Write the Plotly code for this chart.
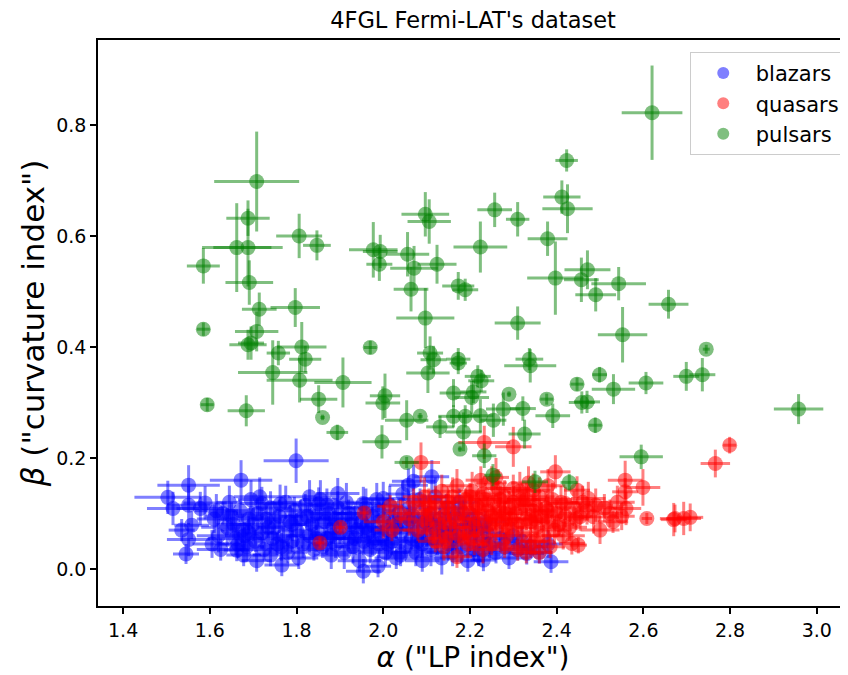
import plotly.graph_objects as go

# ---------------- data ----------------
blazar_alpha = [
    1.799, 1.672, 1.551, 1.503, 1.515, 1.551, 1.578, 1.589, 1.535, 1.558,
    1.551, 1.545, 1.895, 1.954, 2.000, 1.720, 1.762, 1.851, 2.058, 1.954,
    1.988, 1.766, 1.708, 1.662, 1.678, 2.070, 2.112, 2.331, 2.387, 2.231,
    1.61, 1.62, 1.63, 1.64, 1.605, 1.645, 1.625, 1.655, 1.66, 1.67,
    1.675, 1.685, 1.69, 1.695, 1.68, 1.70, 1.705, 1.71, 1.72, 1.725,
    1.73, 1.74, 1.745, 1.715, 1.75, 1.755, 1.76, 1.77, 1.775, 1.78,
    1.785, 1.79, 1.795, 1.80, 1.805, 1.81, 1.815, 1.82, 1.83, 1.835,
    1.84, 1.845, 1.85, 1.855, 1.86, 1.865, 1.87, 1.875, 1.88, 1.885,
    1.89, 1.895, 1.90, 1.905, 1.91, 1.915, 1.92, 1.925, 1.93, 1.935,
    1.94, 1.945, 1.95, 1.955, 1.96, 1.965, 1.97, 1.975, 1.98, 1.985,
    1.99, 1.995, 2.00, 2.005, 2.01, 2.015, 2.02, 2.025, 2.03, 2.035,
    2.04, 2.045, 2.05, 2.055, 2.06, 2.065, 2.07, 2.075, 2.08, 2.085,
    2.09, 2.095, 2.10, 2.105, 2.11, 2.115, 2.12, 2.125, 2.13, 2.135,
    2.14, 2.145, 2.15, 2.155, 2.16, 2.165, 2.17, 2.175, 2.18, 2.19,
    2.195, 2.20, 2.205, 2.21, 2.215, 2.22, 2.23, 2.24, 2.245, 2.26,
    2.27, 2.28, 2.29, 2.30, 2.31, 2.32, 2.34, 2.36, 2.38, 1.615,
    1.665, 1.69, 1.735, 1.765, 1.79, 1.825, 1.845, 1.87, 1.89, 1.92,
    1.935, 1.96, 1.975, 2.01, 2.03, 2.06, 2.08, 2.11, 2.135, 2.16,
    2.185, 2.21, 2.235, 1.65, 1.74, 1.83, 1.88, 1.99, 2.04, 2.09,
]
blazar_beta = [
    0.195, 0.160, 0.151, 0.129, 0.109, 0.115, 0.109, 0.119, 0.070, 0.079,
    0.053, 0.027, 0.136, 0.118, 0.127, 0.118, 0.117, 0.117, 0.151, -0.004,
    0.005, 0.007, 0.015, 0.034, 0.025, 0.158, 0.166, 0.028, 0.013, 0.016,
    0.09, 0.06, 0.10, 0.075, 0.045, 0.12, 0.035, 0.08, 0.055, 0.105,
    0.07, 0.04, 0.09, 0.125, 0.06, 0.08, 0.05, 0.10, 0.065, 0.035,
    0.09, 0.11, 0.055, 0.13, 0.075, 0.045, 0.095, 0.06, 0.12, 0.03,
    0.085, 0.05, 0.105, 0.07, 0.02, 0.09, 0.045, 0.115, 0.06, 0.08,
    0.035, 0.10, 0.065, 0.125, 0.04, 0.085, 0.055, 0.10, 0.025, 0.075,
    0.045, 0.11, 0.065, 0.09, 0.03, 0.12, 0.055, 0.08, 0.04, 0.10,
    0.07, 0.015, 0.085, 0.05, 0.11, 0.065, 0.035, 0.095, 0.075, 0.125,
    0.045, 0.06, 0.09, 0.03, 0.07, 0.115, 0.05, 0.085, 0.02, 0.10,
    0.065, 0.135, 0.04, 0.08, 0.11, 0.055, 0.095, 0.03, 0.07, 0.125,
    0.045, 0.085, 0.06, 0.10, 0.035, 0.075, 0.13, 0.05, 0.09, 0.02,
    0.065, 0.11, 0.045, 0.08, 0.03, 0.095, 0.06, 0.12, 0.04, 0.075,
    0.015, 0.055, 0.09, 0.035, 0.07, 0.025, 0.05, 0.065, 0.04, 0.03,
    0.055, 0.045, 0.02, 0.06, 0.035, 0.05, 0.04, 0.03, 0.045, 0.105,
    0.045, 0.065, 0.075, 0.04, 0.08, 0.095, 0.055, 0.115, 0.09, 0.10,
    0.055, 0.075, 0.05, 0.045, 0.075, 0.09, 0.05, 0.085, 0.07, 0.055,
    0.10, 0.08, 0.085, 0.095, 0.025, 0.13, 0.06, 0.105, 0.025, 0.015,
]
blazar_alpha_err = [
    0.075, 0.072, 0.072, 0.077, 0.06, 0.05, 0.055, 0.05, 0.03, 0.04,
    0.05, 0.03, 0.05, 0.04, 0.05, 0.05, 0.04, 0.06, 0.045, 0.04,
    0.03, 0.04, 0.035, 0.03, 0.04, 0.05, 0.04, 0.04, 0.04, 0.03,
    0.04, 0.05, 0.035, 0.06, 0.045, 0.03, 0.055, 0.04, 0.065, 0.035,
    0.05, 0.04, 0.06, 0.03, 0.045, 0.055, 0.035, 0.05, 0.04, 0.065,
    0.035, 0.05, 0.045, 0.06, 0.04, 0.03, 0.055, 0.05, 0.035, 0.045,
    0.06, 0.04, 0.05, 0.035, 0.045, 0.065, 0.04, 0.03, 0.055, 0.05,
    0.045, 0.035, 0.06, 0.04, 0.05, 0.03, 0.055, 0.045, 0.04, 0.065,
    0.05, 0.04, 0.035, 0.06, 0.045, 0.05, 0.03, 0.055, 0.04, 0.045,
    0.035, 0.05, 0.06, 0.04, 0.045, 0.03, 0.055, 0.05, 0.065, 0.04,
    0.045, 0.035, 0.05, 0.06, 0.04, 0.03, 0.055, 0.045, 0.05, 0.035,
    0.06, 0.04, 0.045, 0.05, 0.035, 0.055, 0.04, 0.065, 0.03, 0.05,
    0.04, 0.05, 0.035, 0.045, 0.06, 0.04, 0.03, 0.055, 0.045, 0.05,
    0.035, 0.045, 0.05, 0.04, 0.06, 0.035, 0.05, 0.045, 0.04, 0.055,
    0.04, 0.05, 0.035, 0.045, 0.04, 0.05, 0.03, 0.045, 0.04, 0.035,
    0.04, 0.035, 0.045, 0.03, 0.04, 0.035, 0.04, 0.03, 0.035, 0.05,
    0.045, 0.055, 0.04, 0.05, 0.035, 0.06, 0.045, 0.04, 0.05, 0.035,
    0.05, 0.04, 0.045, 0.035, 0.05, 0.04, 0.055, 0.045, 0.04, 0.035,
    0.045, 0.04, 0.05, 0.06, 0.04, 0.05, 0.045, 0.04, 0.035, 0.04,
]
blazar_beta_err = [
    0.04, 0.036, 0.036, 0.03, 0.03, 0.035, 0.03, 0.03, 0.02, 0.025,
    0.03, 0.018, 0.028, 0.03, 0.03, 0.03, 0.035, 0.03, 0.03, 0.022,
    0.02, 0.02, 0.02, 0.02, 0.02, 0.03, 0.03, 0.02, 0.02, 0.02,
    0.025, 0.03, 0.02, 0.035, 0.025, 0.03, 0.02, 0.025, 0.03, 0.02,
    0.03, 0.025, 0.02, 0.035, 0.025, 0.03, 0.02, 0.025, 0.03, 0.02,
    0.025, 0.03, 0.02, 0.035, 0.025, 0.02, 0.03, 0.025, 0.03, 0.02,
    0.03, 0.02, 0.025, 0.03, 0.02, 0.035, 0.025, 0.02, 0.03, 0.025,
    0.02, 0.03, 0.025, 0.035, 0.02, 0.025, 0.03, 0.02, 0.025, 0.03,
    0.025, 0.03, 0.02, 0.025, 0.03, 0.035, 0.02, 0.025, 0.03, 0.02,
    0.025, 0.02, 0.03, 0.025, 0.035, 0.02, 0.025, 0.03, 0.02, 0.03,
    0.025, 0.02, 0.03, 0.025, 0.02, 0.035, 0.025, 0.03, 0.02, 0.025,
    0.03, 0.025, 0.02, 0.03, 0.025, 0.02, 0.035, 0.025, 0.03, 0.02,
    0.025, 0.03, 0.02, 0.025, 0.03, 0.02, 0.035, 0.025, 0.02, 0.03,
    0.02, 0.025, 0.03, 0.02, 0.025, 0.035, 0.02, 0.025, 0.03, 0.02,
    0.02, 0.025, 0.03, 0.02, 0.025, 0.02, 0.03, 0.025, 0.02, 0.02,
    0.025, 0.02, 0.02, 0.025, 0.02, 0.025, 0.02, 0.02, 0.025, 0.03,
    0.025, 0.03, 0.02, 0.025, 0.03, 0.02, 0.025, 0.03, 0.02, 0.025,
    0.03, 0.02, 0.025, 0.03, 0.02, 0.025, 0.03, 0.02, 0.025, 0.03,
    0.025, 0.03, 0.02, 0.025, 0.02, 0.03, 0.025, 0.02, 0.02, 0.02,
]

quasar_alpha = [
    2.087, 2.233, 2.300, 2.346, 2.397, 2.558, 2.599, 2.558, 2.560, 2.473,
    2.454, 2.485, 2.500, 2.523, 2.608, 2.670, 2.435, 2.450, 2.170, 2.447,
    2.420, 2.799, 2.766, 2.693, 2.708, 2.673, 1.956, 1.901, 1.854, 2.016,
    2.06, 2.07, 2.08, 2.09, 2.10, 2.095, 2.11, 2.115, 2.12, 2.13,
    2.135, 2.14, 2.145, 2.105, 2.15, 2.155, 2.16, 2.165, 2.17, 2.175,
    2.18, 2.185, 2.19, 2.195, 2.20, 2.205, 2.21, 2.215, 2.22, 2.225,
    2.23, 2.235, 2.24, 2.245, 2.21, 2.23, 2.25, 2.255, 2.26, 2.265,
    2.27, 2.275, 2.28, 2.285, 2.29, 2.295, 2.26, 2.28, 2.27, 2.29,
    2.30, 2.305, 2.31, 2.315, 2.32, 2.325, 2.33, 2.335, 2.34, 2.345,
    2.31, 2.32, 2.34, 2.35, 2.355, 2.36, 2.365, 2.37, 2.375, 2.38,
    2.385, 2.39, 2.395, 2.36, 2.38, 2.40, 2.405, 2.41, 2.415, 2.42,
    2.43, 2.44, 2.445, 2.46, 2.47, 2.49, 2.51, 2.53, 2.54, 2.55,
    2.02, 2.04, 2.00, 2.12, 2.14, 2.19, 2.23, 2.25, 2.33, 2.35,
    2.15, 2.20, 2.25, 2.30, 2.33, 2.28, 2.22, 2.35, 2.38, 2.26,
]
quasar_beta = [
    0.192, 0.228, 0.220, 0.142, 0.175, 0.160, 0.147, 0.139, 0.109, 0.127,
    0.094, 0.094, 0.070, 0.100, 0.091, 0.089, 0.046, 0.043, 0.022, 0.142,
    0.118, 0.223, 0.190, 0.091, 0.093, 0.091, 0.101, 0.075, 0.047, 0.113,
    0.09, 0.12, 0.07, 0.105, 0.085, 0.13, 0.10, 0.065, 0.12, 0.08,
    0.14, 0.095, 0.055, 0.115, 0.11, 0.075, 0.13, 0.09, 0.15, 0.06,
    0.105, 0.085, 0.125, 0.045, 0.10, 0.14, 0.075, 0.115, 0.09, 0.16,
    0.06, 0.125, 0.105, 0.08, 0.05, 0.135, 0.095, 0.12, 0.07, 0.145,
    0.105, 0.085, 0.13, 0.06, 0.11, 0.09, 0.165, 0.04, 0.125, 0.075,
    0.12, 0.10, 0.08, 0.14, 0.065, 0.115, 0.09, 0.155, 0.05, 0.105,
    0.035, 0.125, 0.085, 0.115, 0.075, 0.13, 0.095, 0.06, 0.11, 0.085,
    0.04, 0.125, 0.07, 0.03, 0.15, 0.10, 0.08, 0.12, 0.06, 0.095,
    0.075, 0.11, 0.09, 0.12, 0.105, 0.115, 0.11, 0.085, 0.12, 0.095,
    0.07, 0.10, 0.085, 0.05, 0.04, 0.065, 0.035, 0.045, 0.03, 0.05,
    0.12, 0.13, 0.155, 0.145, 0.125, 0.10, 0.11, 0.09, 0.105, 0.09,
]
quasar_alpha_err = [
    0.044, 0.06, 0.042, 0.04, 0.035, 0.04, 0.04, 0.03, 0.035, 0.04,
    0.03, 0.035, 0.045, 0.03, 0.012, 0.03, 0.03, 0.02, 0.035, 0.03,
    0.04, 0.015, 0.034, 0.04, 0.03, 0.035, 0.01, 0.01, 0.01, 0.03,
    0.04, 0.05, 0.035, 0.045, 0.03, 0.05, 0.04, 0.035, 0.055, 0.04,
    0.045, 0.035, 0.05, 0.04, 0.045, 0.03, 0.05, 0.04, 0.035, 0.045,
    0.04, 0.05, 0.035, 0.045, 0.04, 0.03, 0.05, 0.04, 0.045, 0.035,
    0.05, 0.04, 0.035, 0.045, 0.04, 0.05, 0.035, 0.045, 0.04, 0.03,
    0.045, 0.04, 0.05, 0.035, 0.04, 0.045, 0.03, 0.04, 0.05, 0.035,
    0.04, 0.045, 0.035, 0.05, 0.04, 0.03, 0.045, 0.04, 0.035, 0.05,
    0.04, 0.035, 0.045, 0.04, 0.05, 0.035, 0.04, 0.045, 0.03, 0.04,
    0.035, 0.045, 0.04, 0.03, 0.04, 0.045, 0.035, 0.04, 0.05, 0.035,
    0.04, 0.035, 0.03, 0.04, 0.035, 0.04, 0.03, 0.035, 0.04, 0.03,
    0.04, 0.035, 0.045, 0.04, 0.03, 0.04, 0.035, 0.04, 0.03, 0.035,
    0.04, 0.045, 0.035, 0.04, 0.045, 0.04, 0.035, 0.04, 0.035, 0.04,
]
quasar_beta_err = [
    0.036, 0.03, 0.036, 0.03, 0.03, 0.035, 0.033, 0.025, 0.03, 0.03,
    0.025, 0.03, 0.025, 0.025, 0.01, 0.03, 0.02, 0.015, 0.02, 0.025,
    0.03, 0.015, 0.025, 0.03, 0.025, 0.025, 0.01, 0.01, 0.01, 0.02,
    0.03, 0.025, 0.02, 0.03, 0.025, 0.035, 0.025, 0.02, 0.03, 0.025,
    0.03, 0.025, 0.02, 0.03, 0.025, 0.02, 0.035, 0.025, 0.03, 0.02,
    0.025, 0.03, 0.02, 0.025, 0.03, 0.035, 0.02, 0.025, 0.03, 0.025,
    0.02, 0.03, 0.025, 0.02, 0.025, 0.03, 0.025, 0.03, 0.02, 0.035,
    0.025, 0.02, 0.03, 0.025, 0.03, 0.02, 0.035, 0.02, 0.025, 0.03,
    0.03, 0.025, 0.02, 0.035, 0.025, 0.03, 0.02, 0.03, 0.025, 0.02,
    0.02, 0.03, 0.025, 0.03, 0.02, 0.035, 0.025, 0.02, 0.03, 0.025,
    0.02, 0.03, 0.025, 0.02, 0.03, 0.025, 0.02, 0.03, 0.025, 0.02,
    0.025, 0.03, 0.02, 0.03, 0.025, 0.03, 0.025, 0.02, 0.03, 0.025,
    0.02, 0.025, 0.03, 0.02, 0.025, 0.02, 0.025, 0.02, 0.02, 0.025,
    0.03, 0.025, 0.03, 0.025, 0.03, 0.025, 0.03, 0.02, 0.025, 0.02,
]

pulsar_alpha = [
    2.620, 1.708, 1.688, 1.662, 1.688, 1.806, 1.847, 1.585, 1.691, 1.714,
    1.797, 1.977, 1.993, 1.991, 2.097, 2.106, 2.056, 2.071, 2.124, 2.064,
    2.097, 2.423, 2.412, 2.425, 2.257, 2.310, 2.379, 2.224, 2.397, 2.471,
    2.457, 2.543, 2.490, 2.658, 2.310, 2.552, 2.108, 2.116, 2.173, 2.173,
    2.337, 2.339, 2.103, 2.218, 2.226, 2.162, 2.204, 2.208, 2.290, 2.377,
    2.447, 2.499, 2.531, 2.606, 2.699, 2.736, 2.745, 2.958, 2.458, 2.470,
    2.489, 2.391, 2.322, 2.277, 2.254, 2.224, 2.189, 2.162, 2.185, 2.131,
    2.085, 2.054, 2.004, 1.999, 1.997, 2.326, 2.177, 2.233, 2.595, 2.054,
    2.253, 2.350, 2.429, 1.585, 1.708, 1.688, 1.695, 1.812, 1.758, 1.820,
    1.745, 1.807, 1.907, 1.851, 1.860, 1.894, 1.594, 1.684, 1.970, 2.173,
    2.189,
]
pulsar_beta = [
    0.822, 0.698, 0.632, 0.579, 0.579, 0.600, 0.583, 0.546, 0.516, 0.468,
    0.471, 0.575, 0.572, 0.549, 0.639, 0.626, 0.567, 0.542, 0.549, 0.504,
    0.452, 0.736, 0.670, 0.649, 0.647, 0.630, 0.595, 0.580, 0.524, 0.539,
    0.521, 0.514, 0.494, 0.477, 0.443, 0.422, 0.389, 0.377, 0.378, 0.371,
    0.378, 0.366, 0.353, 0.347, 0.339, 0.317, 0.309, 0.319, 0.315, 0.306,
    0.333, 0.350, 0.324, 0.335, 0.347, 0.350, 0.396, 0.288, 0.300, 0.301,
    0.259, 0.276, 0.289, 0.288, 0.268, 0.276, 0.275, 0.275, 0.247, 0.256,
    0.275, 0.268, 0.312, 0.299, 0.229, 0.243, 0.216, 0.204, 0.202, 0.192,
    0.169, 0.157, 0.156, 0.432, 0.428, 0.404, 0.407, 0.400, 0.389, 0.378,
    0.354, 0.340, 0.336, 0.306, 0.273, 0.246, 0.296, 0.285, 0.399, 0.510,
    0.503,
]
pulsar_alpha_err = [
    0.070, 0.098, 0.050, 0.080, 0.080, 0.053, 0.032, 0.038, 0.055, 0.040,
    0.057, 0.056, 0.040, 0.030, 0.055, 0.050, 0.050, 0.055, 0.045, 0.040,
    0.067, 0.026, 0.043, 0.058, 0.040, 0.027, 0.046, 0.062, 0.065, 0.053,
    0.040, 0.063, 0.047, 0.046, 0.053, 0.057, 0.030, 0.030, 0.028, 0.020,
    0.032, 0.060, 0.050, 0.030, 0.030, 0.032, 0.040, 0.030, 0.005, 0.015,
    0.015, 0.017, 0.050, 0.040, 0.030, 0.030, 0.008, 0.057, 0.030, 0.030,
    0.015, 0.040, 0.030, 0.040, 0.030, 0.030, 0.035, 0.035, 0.042, 0.032,
    0.006, 0.050, 0.035, 0.040, 0.045, 0.037, 0.005, 0.028, 0.050, 0.028,
    0.020, 0.030, 0.020, 0.015, 0.050, 0.043, 0.030, 0.057, 0.027, 0.037,
    0.080, 0.076, 0.066, 0.043, 0.005, 0.025, 0.015, 0.043, 0.015, 0.037,
    0.030,
]
pulsar_beta_err = [
    0.085, 0.090, 0.032, 0.080, 0.070, 0.040, 0.027, 0.032, 0.040, 0.030,
    0.035, 0.050, 0.030, 0.030, 0.040, 0.040, 0.040, 0.040, 0.035, 0.040,
    0.054, 0.020, 0.030, 0.044, 0.031, 0.031, 0.031, 0.046, 0.066, 0.035,
    0.040, 0.030, 0.030, 0.026, 0.030, 0.050, 0.030, 0.025, 0.020, 0.020,
    0.020, 0.030, 0.036, 0.020, 0.020, 0.025, 0.030, 0.020, 0.005, 0.010,
    0.012, 0.014, 0.027, 0.020, 0.026, 0.030, 0.008, 0.027, 0.020, 0.020,
    0.014, 0.022, 0.022, 0.030, 0.030, 0.030, 0.020, 0.020, 0.035, 0.020,
    0.006, 0.036, 0.040, 0.030, 0.030, 0.026, 0.005, 0.022, 0.022, 0.010,
    0.020, 0.020, 0.015, 0.012, 0.036, 0.027, 0.030, 0.045, 0.022, 0.024,
    0.058, 0.040, 0.045, 0.025, 0.005, 0.014, 0.012, 0.028, 0.012, 0.025,
    0.020,
]

series_names = ["blazars", "quasars", "pulsars"]
series_colors = ["rgba(0,0,255,0.5)", "rgba(255,0,0,0.5)", "rgba(0,128,0,0.5)"]

# ---------------- figure ----------------
fig = go.Figure()
all_series = [
    (blazar_alpha, blazar_beta, blazar_alpha_err, blazar_beta_err),
    (quasar_alpha, quasar_beta, quasar_alpha_err, quasar_beta_err),
    (pulsar_alpha, pulsar_beta, pulsar_alpha_err, pulsar_beta_err),
]
for name, color, (xa, ya, exa, eya) in zip(series_names, series_colors, all_series):
    fig.add_trace(go.Scatter(
        x=xa, y=ya, mode="markers", name=name,
        marker=dict(size=15, color=color, line=dict(width=0)),
        error_x=dict(type="data", array=exa, color=color, thickness=3, width=0),
        error_y=dict(type="data", array=eya, color=color, thickness=3, width=0),
    ))

# The page body has an 8px margin, so the figure is sized to fill the rest of the window.
W, H = 840, 667
L, T, B = 90, 32, 69
font_family = "DejaVu Sans"
fig.update_layout(
    width=W, height=H,
    margin=dict(l=L, r=0, t=T, b=B, autoexpand=False),
    paper_bgcolor="white", plot_bgcolor="white",
    font=dict(family=font_family, color="black"),
    title=dict(text="4FGL Fermi-LAT's dataset", x=(L + W) / 2 / W, xanchor="center",
               y=1 - 12 / H, yanchor="middle", font=dict(size=22.5)),
    showlegend=True,
    legend=dict(x=0.789, y=0.979, xanchor="left", yanchor="top",
                bgcolor="white", bordercolor="#cccccc", borderwidth=1,
                font=dict(size=21), itemsizing="constant", itemwidth=55,
                tracegroupgap=0),
)
fig.update_xaxes(
    range=[1.342, 3.072], showgrid=False, zeroline=False, automargin=False,
    showline=True, linecolor="black", linewidth=1.5, mirror=True,
    ticks="outside", ticklen=6, tickwidth=1.5, tickcolor="black",
    tickvals=[1.4, 1.6, 1.8, 2.0, 2.2, 2.4, 2.6, 2.8, 3.0], tickformat=".1f",
    tickfont=dict(size=19),
    title=dict(text="<i>α</i> (\"LP index\")", font=dict(size=28), standoff=6),
)
fig.update_yaxes(
    range=[-0.0667, 0.953], showgrid=False, zeroline=False, automargin=False,
    showline=True, linecolor="black", linewidth=1.5, mirror=False,
    ticks="outside", ticklen=6, tickwidth=1.5, tickcolor="black",
    tickvals=[0.0, 0.2, 0.4, 0.6, 0.8], tickformat=".1f",
    tickfont=dict(size=19),
    title=dict(text="<i>β</i> (\"curvature index\")", font=dict(size=31), standoff=2),
)

fig.write_html("out.html")
